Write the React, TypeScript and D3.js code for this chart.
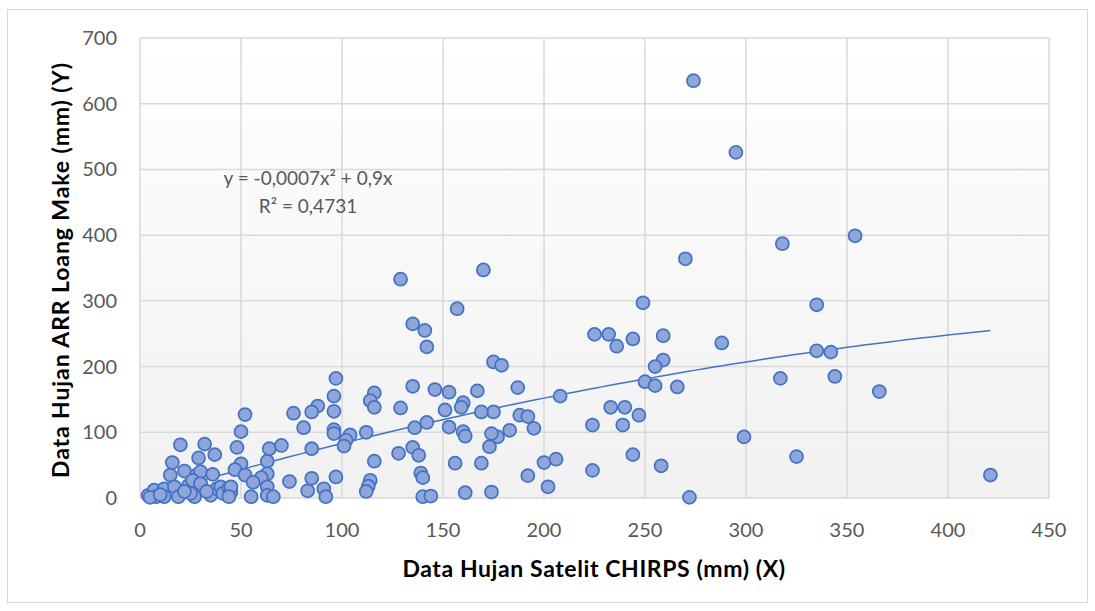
import React, { useEffect, useRef } from "react";
import * as d3 from "d3";

// CHIRPS satellite rainfall (x) vs ARR Loang Make gauge rainfall (y), mm
const chirps = [
  274, 295, 318, 354, 335, 288, 335, 342, 317, 344, 366, 299, 325, 421,
  270, 249, 225, 232, 236, 244, 259, 259, 255, 250, 255, 266, 208, 187,
  175, 179, 175, 188, 192, 195, 183, 177, 173, 233, 240, 247, 224, 239,
  244, 258, 224, 200, 206, 192, 202, 272, 174, 157, 135, 141, 142, 97,
  96, 96, 88, 85, 76, 81, 135, 116, 114, 116, 129, 146, 153, 167, 160,
  159, 151, 169, 96, 96, 104, 102, 101, 112, 136, 142, 153, 160, 161,
  174, 85, 116, 128, 135, 138, 156, 169, 85, 97, 83, 91, 92, 114, 113,
  112, 139, 140, 140, 144, 161, 129, 170,
  52, 50, 48, 50, 20, 32, 37, 29, 16, 22, 15, 28, 30, 36, 47, 52, 63,
  64, 70, 63, 60, 56, 63, 63, 66, 55, 74, 4, 7, 8, 12, 12, 17, 19, 24,
  26, 30, 27, 35, 38, 40, 41, 44, 45, 45, 44, 25, 5, 10, 22, 33,
];
const arr = [
  635, 526, 387, 399, 294, 236, 224, 222, 182, 185, 162, 93, 63, 35,
  364, 297, 249, 249, 231, 242, 247, 210, 200, 177, 171, 169, 155, 168,
  207, 202, 131, 126, 124, 106, 103, 93, 78, 138, 138, 126, 111, 111,
  66, 49, 42, 54, 59, 34, 17, 1, 9, 288, 265, 255, 230, 182,
  155, 132, 140, 131, 129, 107, 170, 160, 148, 138, 137, 165, 161, 163, 145,
  138, 134, 131, 104, 98, 96, 88, 79, 100, 107, 115, 108, 101, 94,
  98, 75, 56, 68, 77, 65, 53, 53, 30, 32, 11, 14, 2, 27, 18,
  10, 38, 31, 2, 3, 8, 333, 347,
  127, 101, 77, 52, 81, 82, 66, 61, 54, 41, 35, 35, 40, 36, 43, 35, 56,
  75, 80, 37, 31, 24, 17, 4, 2, 2, 25, 4, 12, 2, 14, 2, 17, 2, 19,
  27, 22, 2, 4, 14, 17, 7, 15, 9, 17, 2, 7, 1, 5, 10, 10,
];

// trendline shown on the chart: y = -0,0007x² + 0,9x
const trendA = -0.0007;
const trendB = 0.9;
const trendLabel = "y = -0,0007x² + 0,9x";
const r2Label = "R² = 0,4731";

const xTicks = [0, 50, 100, 150, 200, 250, 300, 350, 400, 450];
const yTicks = [0, 100, 200, 300, 400, 500, 600, 700];

const xTitle = "Data Hujan Satelit CHIRPS (mm) (X)";
const yTitle = "Data Hujan ARR Loang Make (mm) (Y)";

const App = () => {
  const ref = useRef<SVGSVGElement>(null);

  useEffect(() => {
    const width = 1095;
    const height = 611;
    const marginLeft = 140;
    const marginRight = 46;
    const marginTop = 38;
    const marginBottom = 113;
    const font = "Lato, 'Open Sans', sans-serif";

    const x = d3
      .scaleLinear()
      .domain([0, 450])
      .range([marginLeft, width - marginRight]);
    const y = d3
      .scaleLinear()
      .domain([0, 700])
      .range([height - marginBottom, marginTop]);

    const svg = d3
      .select(ref.current)
      .attr("width", width)
      .attr("height", height)
      .attr("viewBox", [0, 0, width, height]);

    svg.selectAll("*").remove();

    // gradient for the plot area
    const defs = svg.append("defs");
    const grad = defs
      .append("linearGradient")
      .attr("id", "plotBg")
      .attr("x1", 0)
      .attr("y1", 0)
      .attr("x2", 0)
      .attr("y2", 1);
    grad.append("stop").attr("offset", "0%").attr("stop-color", "#ffffff");
    grad.append("stop").attr("offset", "100%").attr("stop-color", "#f1f1f1");

    // chart border
    svg
      .append("rect")
      .attr("x", 7.5)
      .attr("y", 9.5)
      .attr("width", 1080)
      .attr("height", 593)
      .attr("fill", "#fff")
      .attr("stroke", "#d9d9d9")
      .attr("stroke-width", 1);

    svg
      .append("rect")
      .attr("x", x(0))
      .attr("y", y(700))
      .attr("width", x(450) - x(0))
      .attr("height", y(0) - y(700))
      .attr("fill", "url(#plotBg)");

    // grid lines
    const grid = svg.append("g").attr("stroke", "#d9d9d9").attr("stroke-width", 1.5);
    grid
      .selectAll("line.h")
      .data(yTicks)
      .join("line")
      .attr("x1", x(0))
      .attr("x2", x(450))
      .attr("y1", (d) => y(d))
      .attr("y2", (d) => y(d));
    grid
      .selectAll("line.v")
      .data(xTicks)
      .join("line")
      .attr("x1", (d) => x(d))
      .attr("x2", (d) => x(d))
      .attr("y1", y(0))
      .attr("y2", y(700));

    // tick labels
    svg
      .append("g")
      .selectAll("text")
      .data(yTicks)
      .join("text")
      .attr("x", 117)
      .attr("y", (d) => y(d))
      .attr("dy", "0.35em")
      .attr("text-anchor", "end")
      .attr("font-family", font)
      .attr("font-size", 20)
      .attr("fill", "#595959")
      .text((d) => d);

    svg
      .append("g")
      .selectAll("text")
      .data(xTicks)
      .join("text")
      .attr("x", (d) => x(d))
      .attr("y", 537)
      .attr("text-anchor", "middle")
      .attr("font-family", font)
      .attr("font-size", 20)
      .attr("fill", "#595959")
      .text((d) => d);

    // axis titles
    svg
      .append("text")
      .attr("x", 594)
      .attr("y", 577)
      .attr("text-anchor", "middle")
      .attr("font-family", font)
      .attr("font-size", 23)
      .attr("letter-spacing", 0.6)
      .attr("font-weight", "bold")
      .attr("fill", "#000")
      .text(xTitle);

    svg
      .append("text")
      .attr("transform", "translate(69,270) rotate(-90)")
      .attr("text-anchor", "middle")
      .attr("font-family", font)
      .attr("font-size", 23)
      .attr("letter-spacing", 0.9)
      .attr("font-weight", "bold")
      .attr("fill", "#000")
      .text(yTitle);

    // trendline
    const [xMin, xMax] = d3.extent(chirps) as [number, number];
    const trendXs = d3.range(0, 101).map((i) => xMin + ((xMax - xMin) * i) / 100);
    const line = d3
      .line<number>()
      .x((d) => x(d))
      .y((d) => y(trendA * d * d + trendB * d));
    svg
      .append("path")
      .datum(trendXs)
      .attr("fill", "none")
      .attr("stroke", "#4472c4")
      .attr("stroke-width", 1.5)
      .attr("d", line);

    // points
    svg
      .append("g")
      .selectAll("circle")
      .data(chirps.map((c, i) => [c, arr[i]]))
      .join("circle")
      .attr("cx", (d) => x(d[0]))
      .attr("cy", (d) => y(d[1]))
      .attr("r", 6.5)
      .attr("fill", "#8fa6da")
      .attr("stroke", "#4472c4")
      .attr("stroke-width", 1.75);

    // equation labels
    const eq = svg
      .append("g")
      .attr("font-family", font)
      .attr("font-size", 19)
      .attr("fill", "#595959")
      .attr("text-anchor", "middle");
    eq.append("text").attr("x", 308).attr("y", 185).text(trendLabel);
    eq.append("text").attr("x", 308).attr("y", 213).text(r2Label);
  }, []);

  return (
    <svg
      ref={ref}
      style={{ position: "absolute", left: 0, top: 0, display: "block" }}
    ></svg>
  );
};

export default App;
